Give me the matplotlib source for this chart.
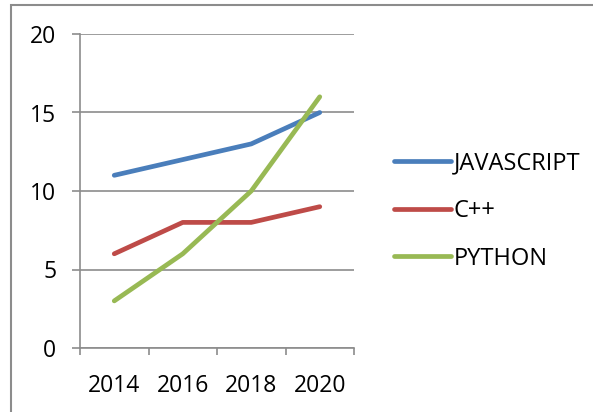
import matplotlib
matplotlib.use('Agg')
import matplotlib.pyplot as plt
from matplotlib.patches import Rectangle
from matplotlib.transforms import IdentityTransform

# ---------------------------------------------------------------------------
# Data
# ---------------------------------------------------------------------------
years = ['2014', '2016', '2018', '2020']
javascript = [11, 12, 13, 15]
cpp = [6, 8, 8, 9]
python = [3, 6, 10, 16]

series = [('JAVASCRIPT', javascript, '#4A7EBB'),
          ('C++', cpp, '#BE4B48'),
          ('PYTHON', python, '#98B954')]

plt.rcParams['font.family'] = ['Open Sans', 'DejaVu Sans']

W, H = 593, 412
fig = plt.figure(figsize=(W / 100, H / 100), dpi=100)

# outer chart frame (cropped on the right and bottom)
fig.patches.append(Rectangle((11, -10), W + 20, H - 5 + 10, fill=False,
                             edgecolor='#8C8C8C', linewidth=1.5,
                             transform=IdentityTransform(), figure=fig))

# plot area in pixels: left 80, right 354, top 34, bottom 348
ax = fig.add_axes([80 / W, (H - 348) / H, (354 - 80) / W, (348 - 34) / H])

x = list(range(len(years)))
for name, vals, col in series:
    ax.plot(x, vals, color=col, linewidth=3.4, solid_capstyle='round',
            label=name, zorder=3)

ax.set_xlim(-0.5, len(years) - 0.5)
ax.set_ylim(0, 20)
ax.set_yticks([0, 5, 10, 15, 20])
ax.set_xticks(x)
ax.set_xticklabels(years)
ax.set_xticks([i - 0.5 for i in range(len(years) + 1)], minor=True)

grid_col = '#8C8C8C'
ax.yaxis.grid(True, color=grid_col, linewidth=1.2)
ax.set_axisbelow(True)
for s in ['top', 'right']:
    ax.spines[s].set_visible(False)
for s in ['left', 'bottom']:
    ax.spines[s].set_color(grid_col)
    ax.spines[s].set_linewidth(1.2)

ax.tick_params(axis='y', length=6, width=1.2, color=grid_col, pad=11,
               labelsize=16.5)
ax.tick_params(axis='x', which='major', length=0, pad=19, labelsize=16.5)
ax.tick_params(axis='x', which='minor', length=5, width=1.2, color=grid_col)

fig.legend(loc='center left', bbox_to_anchor=(394 / W, (H - 211) / H),
           frameon=False, fontsize=17, handlelength=2.4, handletextpad=0.12,
           labelspacing=1.0, borderpad=0, borderaxespad=0)

fig.savefig('out.png', dpi=100, facecolor='white')
